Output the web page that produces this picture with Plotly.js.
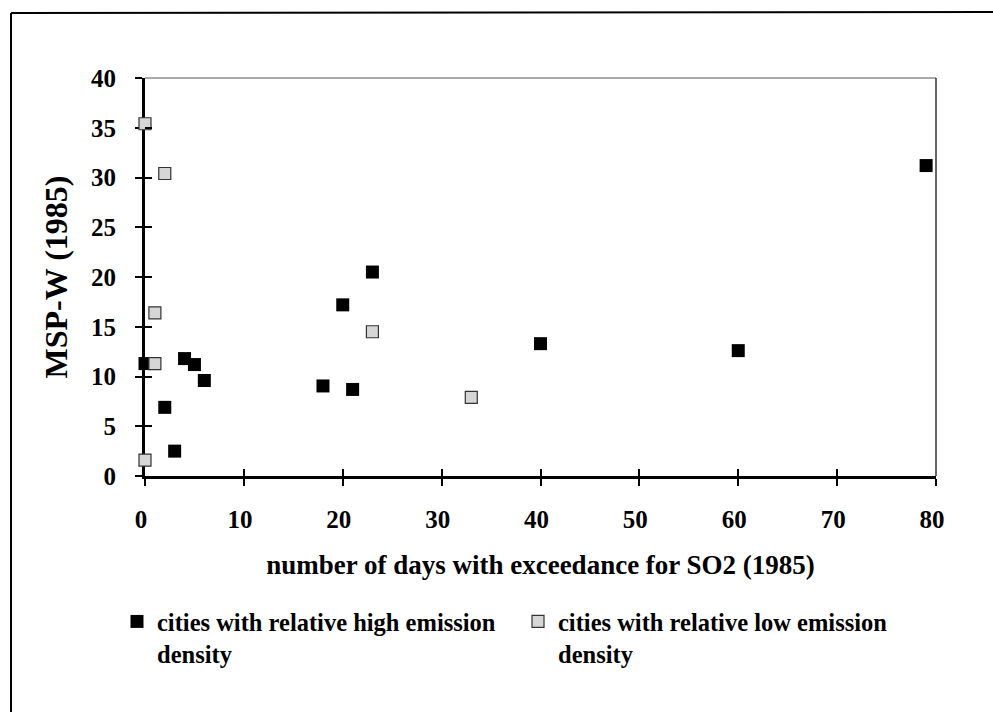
<!DOCTYPE html>
<html>
<head>
<meta charset="utf-8">
<script src="https://cdn.plot.ly/plotly-3.0.1.min.js"></script>
<style>
  html, body { margin: 0; padding: 0; background: #fff; }
  #chart { width: 993px; height: 712px; }
</style>
</head>
<body>
<div id="chart"></div>
<script>
// ---- data ----
const highX = [0, 2, 3, 4, 5, 6, 18, 20, 21, 23, 40, 60, 79];
const highY = [11.3, 6.9, 2.5, 11.8, 11.2, 9.6, 9.05, 17.2, 8.7, 20.5, 13.3, 12.6, 31.2];
const lowX = [0, 0, 1, 1, 2, 23, 33];
const lowY = [35.4, 1.6, 16.4, 11.3, 30.4, 14.5, 7.9];
const highName = 'cities with relative high emission<br>density';
const lowName = 'cities with relative low emission<br>density';
const xTitle = 'number of days with exceedance for SO2 (1985)';
const yTitle = 'MSP-W (1985)';

// ---- layout geometry (pixels) ----
const W = 993, H = 712;
const L = 145, R = 57, T = 78, B = 236;
const pw = W - L - R, ph = H - T - B;
const px = v => (v - L) / pw;          // pixel x -> paper x
const py = v => (H - B - v) / ph;      // pixel y -> paper y

const serif = 'Liberation Serif';
const bold = (size) => ({family: serif, size: size, color: '#000', weight: 'bold'});

const traces = [
  {
    type: 'scatter', mode: 'markers', name: highName,
    x: highX, y: highY, cliponaxis: false,
    marker: {symbol: 'square', size: 13, color: '#000', line: {width: 0}}
  },
  {
    type: 'scatter', mode: 'markers', name: lowName,
    x: lowX, y: lowY, cliponaxis: false,
    marker: {symbol: 'square', size: 12, color: '#d6d6d6', line: {width: 1.2, color: '#333'}}
  },
  { // carrier for the inner half of the crossing tick marks
    type: 'scatter', mode: 'markers', x: [], y: [], xaxis: 'x2', yaxis: 'y2',
    showlegend: false, hoverinfo: 'skip'
  }
];

const layout = {
  width: W, height: H,
  margin: {l: L, r: R, t: T, b: B, autoexpand: false},
  paper_bgcolor: '#fff', plot_bgcolor: '#fff',
  showlegend: true,
  xaxis: {
    range: [0, 80], dtick: 10, tick0: 0,
    showgrid: false, zeroline: false,
    showline: true, linewidth: 3, linecolor: '#000',
    ticks: 'outside', ticklen: 7, tickwidth: 2, tickcolor: '#000',
    tickfont: bold(25), ticklabelstandoff: 12, ticklabelshift: -4,
    layer: 'below traces',
    title: {text: xTitle, font: bold(27), standoff: 24}
  },
  yaxis: {
    range: [0, 40], dtick: 5, tick0: 0,
    showgrid: false, zeroline: false,
    showline: true, linewidth: 3, linecolor: '#000',
    ticks: 'outside', ticklen: 7, tickwidth: 2, tickcolor: '#000',
    tickfont: bold(25), ticklabelstandoff: 14,
    layer: 'below traces',
    title: {text: yTitle, font: bold(32), standoff: 14}
  },
  xaxis2: {
    overlaying: 'x', anchor: 'y2', side: 'bottom', range: [0, 80], dtick: 10, tick0: 0,
    showgrid: false, zeroline: false, showline: false, showticklabels: false,
    ticks: 'inside', ticklen: 7, tickwidth: 2, tickcolor: '#000'
  },
  yaxis2: {
    overlaying: 'y', anchor: 'x2', side: 'left', range: [0, 40], dtick: 5, tick0: 0,
    showgrid: false, zeroline: false, showline: false, showticklabels: false,
    ticks: 'inside', ticklen: 7, tickwidth: 2, tickcolor: '#000'
  },
  legend: {
    orientation: 'h', x: px(117), xanchor: 'left', y: py(599), yanchor: 'top',
    font: bold(24.5), valign: 'top', entrywidth: 356, itemwidth: 30,
    bgcolor: 'rgba(0,0,0,0)', borderwidth: 0, traceorder: 'normal'
  },
  shapes: [
    // thin top and right edges of the plot frame
    {type: 'line', xref: 'paper', yref: 'paper', x0: 0, x1: 1, y0: 1, y1: 1, line: {color: '#555', width: 1.2}, layer: 'below'},
    {type: 'line', xref: 'paper', yref: 'paper', x0: 1, x1: 1, y0: 0, y1: 1, line: {color: '#333', width: 1.5}, layer: 'below'},
    // outer page border (left and top)
    {type: 'line', xref: 'paper', yref: 'paper', x0: px(11), x1: px(11), y0: py(13), y1: py(H + 5), line: {color: '#000', width: 2}},
    {type: 'line', xref: 'paper', yref: 'paper', x0: px(11), x1: px(W + 5), y0: py(13), y1: py(12), line: {color: '#000', width: 2}}
  ]
};

Plotly.newPlot('chart', traces, layout, {displayModeBar: false, staticPlot: true});
</script>
</body>
</html>
